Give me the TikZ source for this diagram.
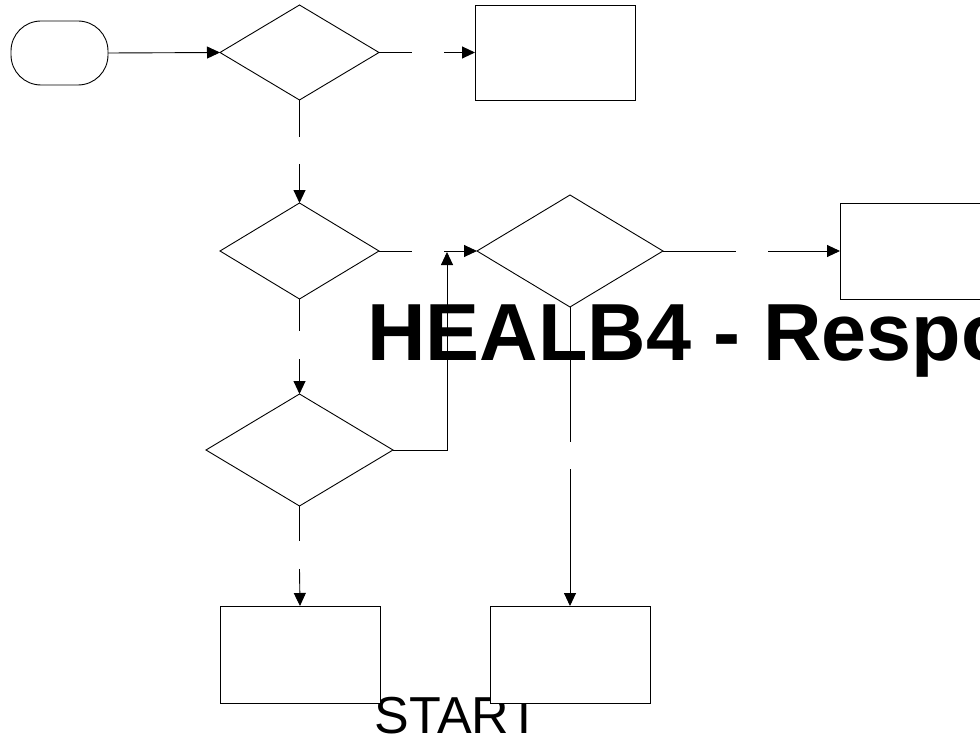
\documentclass[tikz,border=0pt]{standalone}
\usepackage{fontspec}
\setmainfont{Liberation Sans}
\usetikzlibrary{shapes.geometric,arrows.meta}
\begin{document}
\begin{tikzpicture}[x=1pt,y=-1pt,
  conn/.style={draw=black,line width=0.9pt},
  arr/.style={conn,-{Triangle[length=13pt,width=12pt]}},
  dec/.style={diamond,draw=black,line width=0.9pt,inner sep=0pt,outer sep=0pt},
  proc/.style={rectangle,draw=black,fill=white,line width=0.9pt,inner sep=0pt,outer sep=0pt,minimum width=160pt,minimum height=96pt},
  term/.style={rectangle,draw=black,line width=0.9pt,rounded corners=30pt,inner sep=0pt,outer sep=0pt,minimum width=97pt,minimum height=64pt}
]
\useasboundingbox (0,0) rectangle (980,741);
\clip (0,0) rectangle (980,741);
\fill[white] (0,0) rectangle (980,741);

% texts (below the shapes)
\node[anchor=base west,inner sep=0pt,font=\bfseries\fontsize{81}{97}\selectfont] (title) at (367,360) {HEALB4 - Respo};
\node[anchor=base west,inner sep=0pt,font=\fontsize{52}{62}\selectfont] (start) at (374.5,733) {START};

% shapes
\node[term] (t) at (59.5,53) {};
\node[dec,minimum width=159pt,minimum height=95pt] (d1) at (299.5,52.5) {};
\node[dec,minimum width=159pt,minimum height=96pt] (d2) at (299.5,251) {};
\node[dec,minimum width=187pt,minimum height=112pt] (d3) at (299.5,450) {};
\node[dec,minimum width=186pt,minimum height=112pt] (d4) at (570,251) {};
\node[proc,minimum height=95pt] (b1) at (555,52.5) {};
\node[proc] (b2) at (920,251) {};
\node[proc,minimum height=97pt] (b3) at (300,654.5) {};
\node[proc,minimum height=97pt] (b4) at (570,654.5) {};

% gap coordinates
\coordinate (a1) at (412,52.5);  \coordinate (a2) at (444,52.5);
\coordinate (c1) at (299.5,137); \coordinate (c2) at (299.5,164);
\coordinate (e1) at (412,251);   \coordinate (e2) at (444,251);
\coordinate (f1) at (299.5,331); \coordinate (f2) at (299.5,359);
\coordinate (k)  at (447,450);   \coordinate (kt) at (447,252);
\coordinate (h1) at (736,251);   \coordinate (h2) at (768,251);
\coordinate (m1) at (570,442);   \coordinate (m2) at (570,469);
\coordinate (n1) at (299.5,541); \coordinate (n2) at (299.5,569);

% connectors
\draw[arr] (t.east) -- (d1.west);
\draw[conn] (d1.east) -- (a1);
\draw[arr] (a2) -- (b1.west);
\draw[conn] (d1.south) -- (c1);
\draw[arr] (c2) -- (d2.north);
\draw[conn] (d2.east) -- (e1);
\draw[arr] (e2) -- (d4.west);
\draw[conn] (d2.south) -- (f1);
\draw[arr] (f2) -- (d3.north);
\draw[arr] (d3.east) -- (k) -- (kt);
\draw[conn] (d4.east) -- (h1);
\draw[arr] (h2) -- (b2.west);
\draw[conn] (d4.south) -- (m1);
\draw[arr] (m2) -- (b4.north);
\draw[conn] (d3.south) -- (n1);
\draw[arr] (n2) -- (b3.north);
\end{tikzpicture}
\end{document}
